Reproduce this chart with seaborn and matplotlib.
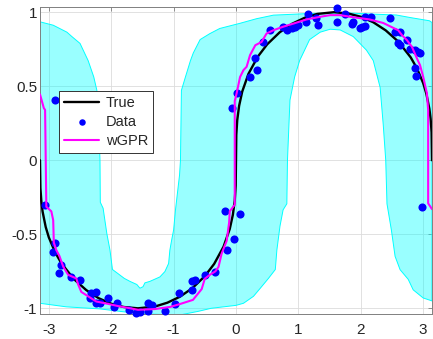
import matplotlib
matplotlib.use('Agg')
import matplotlib.pyplot as plt
import seaborn as sns
import pandas as pd

# ---------------- data ----------------
true_x = [-3.1416, -3.135, -3.12, -3.10, -3.05, -3.0, -2.9, -2.8, -2.6, -2.4, -2.2, -2.0, -1.8,
          -1.5708, -1.3, -1.1, -0.9, -0.7, -0.5, -0.35, -0.2, -0.1, -0.05, -0.02, -0.005, 0.0,
          0.005, 0.02, 0.05, 0.1, 0.2, 0.35, 0.5, 0.7, 0.9, 1.1, 1.3, 1.5708, 1.8, 2.0, 2.2,
          2.4, 2.6, 2.8, 2.9, 3.0, 3.05, 3.10, 3.12, 3.135, 3.1416]
true_y = [0.0, -0.188, -0.278, -0.347, -0.451, -0.521, -0.621, -0.695, -0.802, -0.877, -0.932,
          -0.969, -0.991, -1.0, -0.988, -0.962, -0.922, -0.864, -0.783, -0.700, -0.584, -0.464,
          -0.368, -0.271, -0.171, 0.0, 0.171, 0.271, 0.368, 0.464, 0.584, 0.700, 0.783, 0.864,
          0.922, 0.962, 0.988, 1.0, 0.991, 0.969, 0.932, 0.877, 0.802, 0.695, 0.621, 0.521,
          0.451, 0.347, 0.278, 0.188, 0.0]

data_x = [-2.90, -3.06, -2.90, -2.93, -2.80, -2.83, -2.64, -2.50, -2.32, -2.24, -2.34, -2.24,
          -2.18, -2.05, -1.90, -1.95, -1.71, -1.60, -1.54, -1.41, -1.35, -1.41, -1.14, -0.98,
          -0.92, -0.71, -0.66, -0.71, -0.50, -0.34, -0.15, -0.04, -0.18, 0.065, -0.07, 0.01,
          0.225, 0.33, 0.30, 0.44, 0.55, 0.755, 0.815, 0.895, 0.945, 1.0, 1.16, 1.13, 1.29,
          1.32, 1.615, 1.615, 1.75, 1.88, 1.86, 1.985, 2.015, 2.065, 2.17, 2.065, 2.47, 2.55,
          2.63, 2.60, 2.74, 2.63, 2.79, 2.87, 2.92, 2.95, 2.87, 2.88, 2.98]
data_y = [0.406, -0.304, -0.560, -0.617, -0.707, -0.763, -0.786, -0.808, -0.899, -0.889, -0.929,
          -0.966, -0.966, -0.929, -0.966, -0.988, -1.010, -1.030, -1.025, -0.966, -0.977, -1.020,
          -1.020, -0.970, -0.899, -0.818, -0.808, -0.876, -0.774, -0.758, -0.604, -0.531, -0.341,
          -0.365, 0.356, 0.452, 0.560, 0.609, 0.688, 0.799, 0.878, 0.901, 0.878, 0.890, 0.901,
          0.912, 0.991, 0.935, 0.958, 0.912, 1.030, 0.935, 0.986, 0.935, 0.920, 0.890, 0.901,
          0.969, 0.969, 0.905, 0.964, 0.867, 0.867, 0.789, 0.815, 0.777, 0.748, 0.744, 0.732,
          0.721, 0.620, 0.569, -0.314]

gpr_x = [-3.1416, -3.08, -3.06, -3.04, -2.96, -2.93, -2.92, -2.88, -2.83, -2.77, -2.69, -2.56,
         -2.53, -2.48, -2.37, -2.24, -2.05, -1.90, -1.73, -1.57, -1.30, -1.05, -0.89, -0.69,
         -0.55, -0.50, -0.42, -0.33, -0.28, -0.23, -0.15, -0.11, -0.10, -0.02, -0.02, 0.01,
         0.065, 0.12, 0.17, 0.225, 0.31, 0.41, 0.49, 0.60, 0.75, 0.92, 1.13, 1.35, 1.51, 1.67,
         1.83, 2.14, 2.36, 2.60, 2.66, 2.74, 2.82, 2.90, 2.95, 3.00, 3.06, 3.08, 3.08, 3.1416]
gpr_y = [0.445, 0.352, 0.340, -0.314, -0.345, -0.405, -0.556, -0.607, -0.647, -0.718, -0.774,
         -0.798, -0.839, -0.889, -0.919, -0.954, -0.970, -0.984, -0.997, -1.010, -1.005, -0.990,
         -0.970, -0.943, -0.870, -0.800, -0.774, -0.750, -0.720, -0.630, -0.545, -0.420, -0.345,
         -0.300, 0.400, 0.452, 0.562, 0.609, 0.631, 0.710, 0.777, 0.799, 0.856, 0.878, 0.901,
         0.923, 0.951, 0.969, 0.980, 0.980, 0.969, 0.951, 0.927, 0.878, 0.845, 0.811, 0.766,
         0.688, 0.642, 0.564, 0.452, 0.339, -0.291, -0.330]

band_up_x = [-3.1416, -2.93, -2.71, -2.63, -2.50, -2.37, -2.28, -2.23, -2.20, -2.18, -2.175,
             -2.13, -2.07, -2.02, -1.98, -1.90, -1.79, -1.70, -1.59, -1.54, -1.49, -1.46, -1.38,
             -1.22, -1.14, -1.08, -1.06, -1.03, -1.00, -0.97, -0.905, -0.89, -0.875, -0.81,
             -0.73, -0.685, -0.575, -0.42, -0.26, 0.065, 0.33, 0.60, 1.18, 1.72, 2.25, 2.57,
             2.79, 3.10, 3.1416]
band_up_y = [0.935, 0.912, 0.865, 0.835, 0.789, 0.673, 0.563, 0.472, 0.226, 0.001, -0.284,
             -0.324, -0.496, -0.607, -0.738, -0.763, -0.798, -0.818, -0.839, -0.864, -0.854,
             -0.828, -0.818, -0.788, -0.752, -0.697, -0.607, -0.536, -0.471, -0.335, -0.100,
             0.0, 0.472, 0.563, 0.673, 0.724, 0.815, 0.855, 0.890, 0.925, 0.956, 0.980, 0.991,
             0.996, 0.986, 0.981, 0.964, 0.942, 0.930]
band_lo_x = [-3.1416, -2.72, -2.18, -1.54, -0.90, -0.60, -0.40, 0.0, 0.12, 0.28, 0.39, 0.52,
             0.63, 0.655, 0.705, 0.755, 0.815, 0.825, 0.865, 0.94, 1.02, 1.18, 1.35, 1.51, 1.67,
             1.88, 2.09, 2.20, 2.31, 2.36, 2.40, 2.42, 2.49, 2.55, 2.63, 2.76, 2.84, 3.00, 3.1416]
band_lo_y = [-0.966, -0.990, -1.004, -1.037, -1.045, -1.020, -1.000, -0.980, -0.966, -0.919,
             -0.864, -0.798, -0.738, -0.607, -0.445, -0.335, -0.294, 0.0, 0.406, 0.563, 0.673,
             0.815, 0.865, 0.885, 0.880, 0.835, 0.744, 0.673, 0.492, 0.240, 0.0, -0.294, -0.470,
             -0.649, -0.739, -0.804, -0.875, -0.930, -0.950]

x_ticks = [-3, -2, -1, 0, 1, 2, 3]
x_tick_labels = ['-3', '-2', '-1', '0', '1', '2', '3']
y_ticks = [-1, -0.5, 0, 0.5, 1]
y_tick_labels = ['-1', '-0.5', '0', '0.5', '1']
labels = ['True', 'Data', 'wGPR']

# ---------------- style ----------------
sns.set_theme(style='white')
plt.rcParams['font.family'] = ['Liberation Sans', 'DejaVu Sans']
plt.rcParams['axes.unicode_minus'] = False

W, H = 433, 339
fig = plt.figure(figsize=(W / 100, H / 100), dpi=100)
ax = fig.add_axes([40 / W, (H - 313.5) / H, 392 / W, 306.5 / H])

ax.grid(True, color='#dcdcdc', lw=0.6)
ax.set_axisbelow(True)

# confidence band
poly_x = band_up_x + band_lo_x[::-1]
poly_y = band_up_y + band_lo_y[::-1]
ax.fill(poly_x, poly_y, facecolor=(0, 1, 1, 0.4), edgecolor=(0, 1, 1, 1), lw=0.7, zorder=1)

df_true = pd.DataFrame({'x': true_x, 'y': true_y})
df_data = pd.DataFrame({'x': data_x, 'y': data_y})
df_gpr = pd.DataFrame({'x': gpr_x, 'y': gpr_y})

sns.lineplot(data=df_true, x='x', y='y', sort=False, estimator=None, color='black',
             lw=1.7, ax=ax, label=labels[0], zorder=3)
sns.scatterplot(data=df_data, x='x', y='y', color='#0000ff', s=34, linewidth=0, ax=ax,
                label=labels[1], zorder=4, clip_on=False)
sns.lineplot(data=df_gpr, x='x', y='y', sort=False, estimator=None, color='#ff00ff',
             lw=1.5, ax=ax, label=labels[2], zorder=5)

ax.set_xlim(-3.1416, 3.1416)
ax.set_ylim(-1.035, 1.035)
ax.set_xticks(x_ticks)
ax.set_xticklabels(x_tick_labels)
ax.set_yticks(y_ticks)
ax.set_yticklabels(y_tick_labels)
ax.set_xlabel('')
ax.set_ylabel('')

ax.tick_params(axis='both', direction='in', length=3, width=0.6, color='#808080',
               top=True, right=True, labelsize=11, labelcolor='#262626')
ax.tick_params(axis='x', pad=7)
ax.tick_params(axis='y', pad=2)
for s in ax.spines.values():
    s.set_visible(True)
    s.set_color('#808080')
    s.set_linewidth(0.7)

leg = ax.legend(loc='upper left', bbox_to_anchor=(19 / 392, (313.5 - 91) / 306.5),
                borderaxespad=0, fontsize=10.5, frameon=True, fancybox=False,
                edgecolor='#333333', framealpha=1, borderpad=0.35, labelspacing=0.33,
                handlelength=2.4, handletextpad=0.45, markerscale=0.8)
leg.get_frame().set_linewidth(0.7)

fig.savefig('out.png', dpi=100)
